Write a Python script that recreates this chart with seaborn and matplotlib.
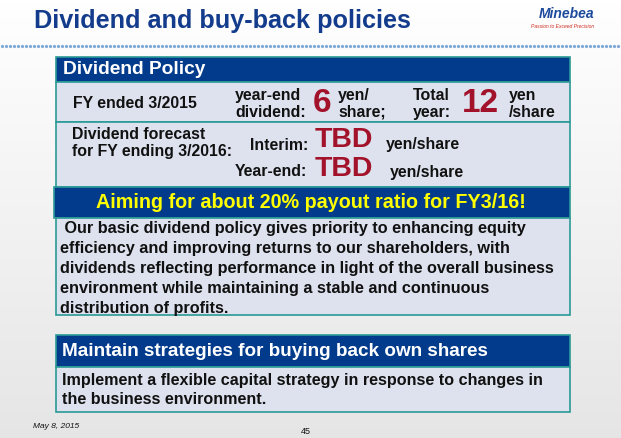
import matplotlib
matplotlib.use("Agg")
import matplotlib.pyplot as plt
import seaborn as sns
from matplotlib.patches import Rectangle
import numpy as np

sns.set_theme(style="white")
plt.rcParams["font.family"] = "Liberation Sans"

title = "Dividend and buy-back policies"
header1 = "Dividend Policy"
fy_label = "FY ended 3/2015"
year_end_dividend = "6"
total_year = "12"
forecast_label = ["Dividend forecast", "for FY ending 3/2016:"]
interim = "TBD"
year_end = "TBD"
aim = "Aiming for about 20% payout ratio for FY3/16!"
policy_lines = [" Our basic dividend policy gives priority to enhancing equity",
                "efficiency and improving returns to our shareholders, with",
                "dividends reflecting performance in light of the overall business",
                "environment while maintaining a stable and continuous",
                "distribution of profits."]
header2 = "Maintain strategies for buying back own shares"
buyback_lines = ["Implement a flexible capital strategy in response to changes in",
                 "the business environment."]
date = "May 8, 2015"
page = "45"

NAVY = "#023a8c"
BODY = "#dde2ee"
TEAL = "#2a9a96"
RED = "#a3122b"
TXT = "#111111"
FS = 11.4
LS = 1.1

fig = plt.figure(figsize=(6.21, 4.38), dpi=100)
ax = fig.add_axes([0, 0, 1, 1])
ax.set_xlim(0, 621); ax.set_ylim(438, 0); ax.axis("off")
grad = np.linspace(1.0, 0.9, 100)[:, None]
ax.imshow(np.dstack([grad, grad, grad]), extent=[0, 621, 438, 0], aspect="auto", zorder=0)

def rect(x0, y0, x1, y1, fc, ec=TEAL, lw=1.2, z=1):
    ax.add_patch(Rectangle((x0, y0), x1 - x0, y1 - y0, fc=fc, ec=ec, lw=lw, zorder=z))

ax.text(34, 21, title, fontsize=18.2, fontweight="bold", color="#143c8c", va="center")
ax.text(594, 14, "Minebea", fontsize=10, fontweight="bold", style="italic", color="#1c4a9c", ha="right", va="center")
ax.text(594, 26, "Passion to Exceed Precision", fontsize=3.6, style="italic", color="#d03020", ha="right", va="center")
xs = np.arange(2, 621, 4)
ax.plot(xs, np.full(len(xs), 46), ls="none", marker="o", ms=1.3, color="#7fa7d8")

rect(56, 57, 570, 82, NAVY)
ax.text(63, 69.5, header1, fontsize=13.8, fontweight="bold", color="white", va="center")
rect(56, 82, 570, 122, BODY)
rect(56, 122, 570, 187, BODY)
ax.text(73, 103, fy_label, fontsize=FS, fontweight="bold", color=TXT, va="center")
ax.text(235, 104, "year-end\ndividend:", fontsize=FS, fontweight="bold", color=TXT, va="center", linespacing=LS)
ax.text(313, 104, year_end_dividend, fontsize=24, fontweight="bold", color=RED, va="center")
ax.text(338, 104, "yen/\nshare;", fontsize=FS, fontweight="bold", color=TXT, va="center", linespacing=LS)
ax.text(413, 104, "Total\nyear:", fontsize=FS, fontweight="bold", color=TXT, va="center", linespacing=LS)
ax.text(462, 104, total_year, fontsize=24, fontweight="bold", color=RED, va="center")
ax.text(509, 104, "yen\n/share", fontsize=FS, fontweight="bold", color=TXT, va="center", linespacing=LS, ha="left")
ax.text(72, 143, "\n".join(forecast_label), fontsize=FS, fontweight="bold", color=TXT, va="center", linespacing=LS)
ax.text(250, 145, "Interim:", fontsize=FS, fontweight="bold", color=TXT, va="center")
ax.text(315, 140, interim, fontsize=20.5, fontweight="bold", color=RED, va="center")
ax.text(386, 145, "yen/share", fontsize=FS, fontweight="bold", color=TXT, va="center")
ax.text(235, 172, "Year-end:", fontsize=FS, fontweight="bold", color=TXT, va="center")
ax.text(315, 169, year_end, fontsize=20.5, fontweight="bold", color=RED, va="center")
ax.text(390, 172, "yen/share", fontsize=FS, fontweight="bold", color=TXT, va="center")

rect(54, 187, 570, 218, NAVY)
ax.text(311, 202.5, aim, fontsize=14.2, fontweight="bold", color="#ffff00", ha="center", va="center")
rect(56, 218, 570, 315, BODY)
for i, line in enumerate(policy_lines):
    ax.text(60, 228 + i * 20, line, fontsize=11.7, fontweight="bold", color=TXT, va="center")

rect(56, 335, 570, 367, NAVY)
ax.text(62, 352, header2, fontsize=13.6, fontweight="bold", color="white", va="center")
rect(56, 367, 570, 412, BODY)
for i, line in enumerate(buyback_lines):
    ax.text(62, 380 + i * 19, line, fontsize=11.6, fontweight="bold", color=TXT, va="center")

ax.text(33, 426, date, fontsize=6, style="italic", color=TXT, va="center")
ax.text(306, 432, page, fontsize=6.5, color=TXT, ha="center", va="center")

fig.savefig("out.png", dpi=100)
